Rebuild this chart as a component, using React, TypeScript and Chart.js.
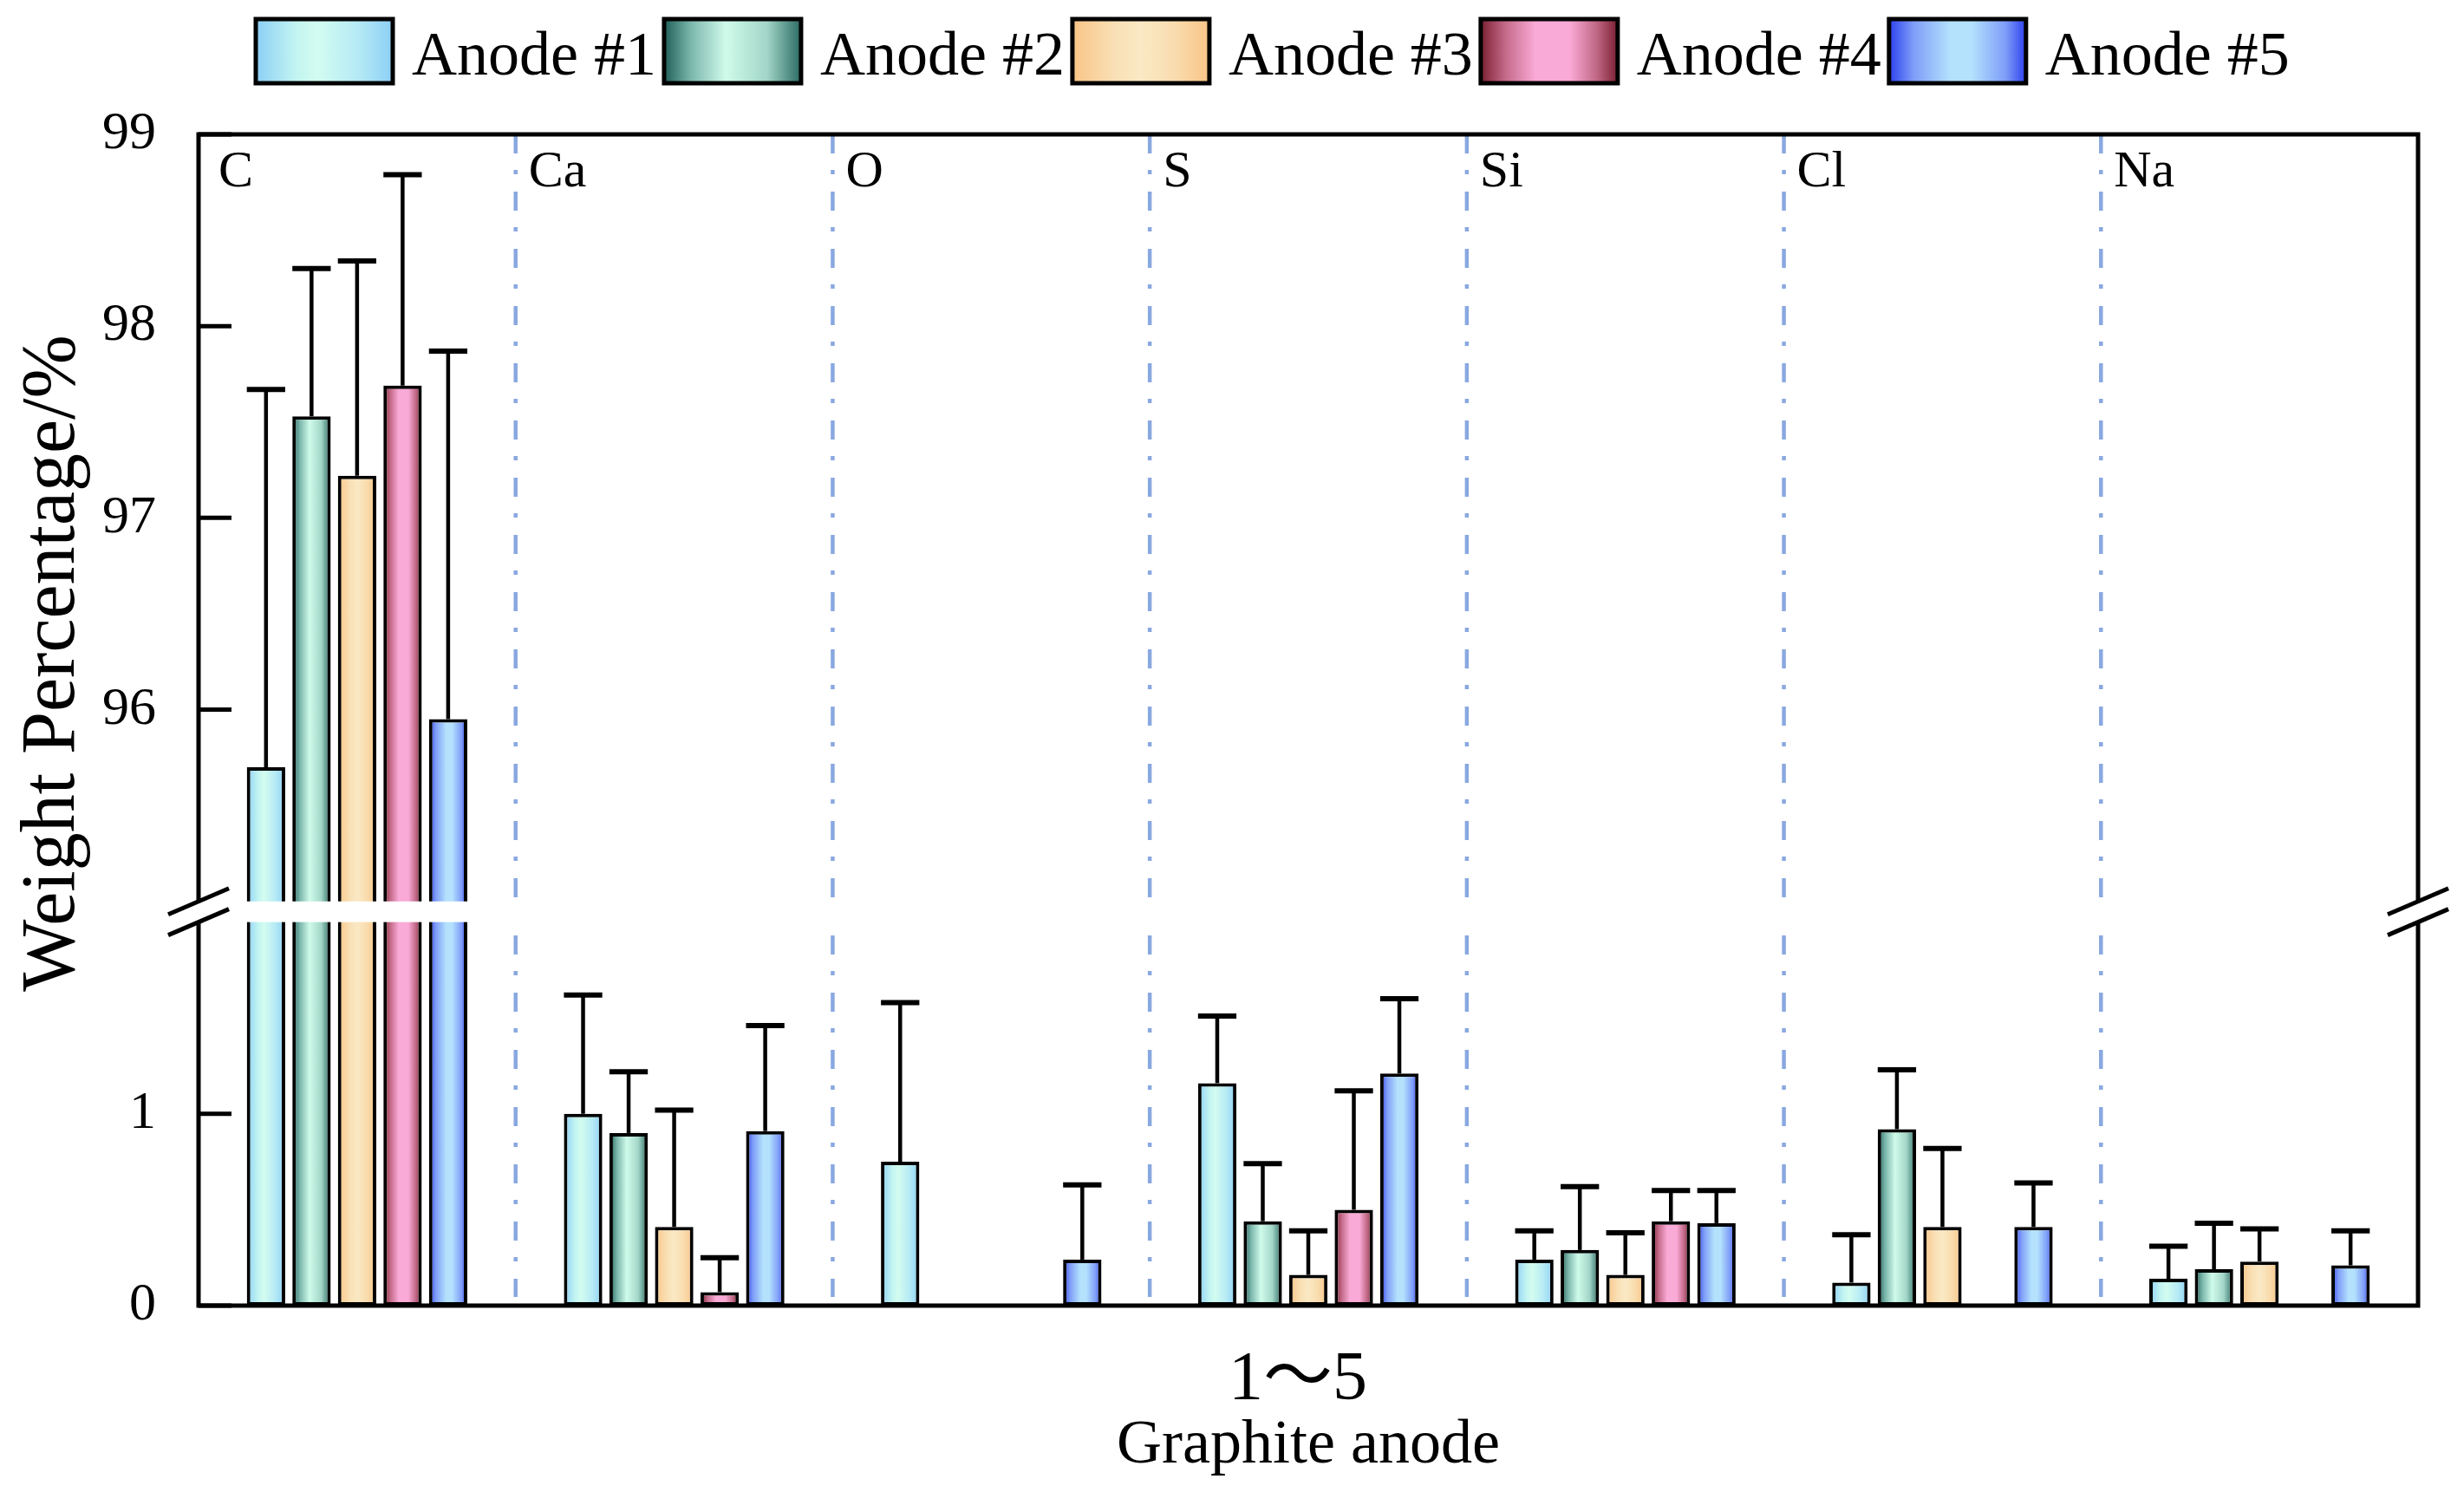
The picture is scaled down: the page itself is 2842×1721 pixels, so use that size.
import React, { useEffect, useRef } from 'react';
import { Chart, BarController, BarElement, CategoryScale, LinearScale } from 'chart.js';

Chart.register(BarController, BarElement, CategoryScale, LinearScale);

const categories = ['C', 'Ca', 'O', 'S', 'Si', 'Cl', 'Na'];
const seriesLabels = ['Anode #1', 'Anode #2', 'Anode #3', 'Anode #4', 'Anode #5'];

const anode1 = [95.7, 1.0, 0.75, 1.16, 0.24, 0.12, 0.14];
const anode2 = [97.53, 0.9, null, 0.44, 0.29, 0.92, 0.19];
const anode3 = [97.22, 0.41, null, 0.16, 0.16, 0.41, 0.23];
const anode4 = [97.69, 0.07, null, 0.5, 0.44, null, null];
const anode5 = [95.95, 0.91, 0.24, 1.21, 0.43, 0.41, 0.21];

const anode1Err = [1.97, 0.62, 0.83, 0.35, 0.15, 0.25, 0.17];
const anode2Err = [0.77, 0.32, null, 0.3, 0.33, 0.31, 0.24];
const anode3Err = [1.12, 0.61, null, 0.23, 0.22, 0.41, 0.17];
const anode4Err = [1.1, 0.18, null, 0.62, 0.16, null, null];
const anode5Err = [1.92, 0.55, 0.39, 0.39, 0.17, 0.23, 0.18];

const yTickValues = [0, 1, 96, 97, 98, 99];

const values = [anode1, anode2, anode3, anode4, anode5];
const errors = [anode1Err, anode2Err, anode3Err, anode4Err, anode5Err];

// broken y axis: 0-2 below the break, 95-99 above it
const LOW_MAX = 2;
const HIGH_MIN = 95;
const HIGH_MAX = 99;
const GAP = 0.108;
const toAxis = (v: number) => (v <= LOW_MAX ? v : LOW_MAX + GAP + (v - HIGH_MIN));
const AXIS_MAX = toAxis(HIGH_MAX);

const CAT_PCT = 0.718;
const BAR_PCT = 0.843;
const SERIF = '"Liberation Serif", "Times New Roman", serif';

const flatColors = ['#b8ecf4', '#8cc6bb', '#fadbb0', '#e48fb5', '#7f9df8'];
const gradientStops: [number, string][][] = [
  [[0, '#8ccff6'], [0.3, '#c3f5f1'], [0.45, '#d3fcf0'], [0.75, '#b5eaf5'], [1, '#8ccff6']],
  [[0, '#1f5f58'], [0.2, '#7db8ad'], [0.45, '#cffbea'], [0.75, '#a3d6c8'], [1, '#2a6a63']],
  [[0, '#f9c486'], [0.3, '#f9dfb4'], [0.5, '#fae9c5'], [0.75, '#f9dcae'], [1, '#f9c486']],
  [[0, '#7a1f30'], [0.18, '#c46a89'], [0.4, '#f9aad6'], [0.65, '#f9aad6'], [0.85, '#bf6684'], [1, '#7a1f30']],
  [[0, '#2c40ee'], [0.18, '#7f9df8'], [0.45, '#b4e2fd'], [0.6, '#b4e2fd'], [0.85, '#7f9df8'], [1, '#2c40ee']],
];

function makeGradient(ctx: CanvasRenderingContext2D, x0: number, x1: number, stops: [number, string][]) {
  const g = ctx.createLinearGradient(x0, 0, x1, 0);
  stops.forEach(([o, c]) => g.addColorStop(o, c));
  return g;
}

const barFill = (si: number) => (c: any) => {
  const chart = c.chart;
  const xs = chart.scales?.x;
  if (c.type !== 'data' || !xs || !xs.width) return flatColors[si];
  const catW = xs.width / categories.length;
  const slot = (catW * CAT_PCT) / seriesLabels.length;
  const w = slot * BAR_PCT;
  const cx = xs.getPixelForValue(c.dataIndex) + (si - (seriesLabels.length - 1) / 2) * slot;
  if (!isFinite(cx)) return flatColors[si];
  return makeGradient(chart.ctx, cx - w / 2, cx + w / 2, gradientStops[si]);
};

const decorPlugin = {
  id: 'anodeDecor',
  beforeDatasetsDraw(chart: any) {
    const { ctx, chartArea: a } = chart;
    const catW = (a.right - a.left) / categories.length;
    ctx.save();
    ctx.strokeStyle = '#89a8e0';
    ctx.lineWidth = 4.5;
    ctx.setLineDash([22, 19, 5, 20]);
    for (let k = 1; k < categories.length; k++) {
      const x = a.left + k * catW;
      ctx.beginPath();
      ctx.moveTo(x, a.top);
      ctx.lineTo(x, a.bottom - 10);
      ctx.stroke();
    }
    ctx.restore();
  },
  afterDatasetsDraw(chart: any) {
    const { ctx, chartArea: a } = chart;
    const ys = chart.scales.y;
    ctx.save();

    // error bars (upper side only)
    ctx.strokeStyle = '#000';
    values.forEach((series, si) => {
      const meta = chart.getDatasetMeta(si);
      meta.data.forEach((bar: any, i: number) => {
        const v = series[i];
        const e = errors[si][i];
        if (v == null || e == null) return;
        const { x, y, width } = bar.getProps(['x', 'y', 'width'], true);
        const top = ys.getPixelForValue(toAxis(v + e));
        ctx.lineWidth = 4.5;
        ctx.beginPath();
        ctx.moveTo(x, y);
        ctx.lineTo(x, top);
        ctx.stroke();
        ctx.lineWidth = 6;
        ctx.beginPath();
        ctx.moveTo(x - width / 2, top);
        ctx.lineTo(x + width / 2, top);
        ctx.stroke();
      });
    });

    // frame
    ctx.lineWidth = 5;
    ctx.strokeRect(a.left, a.top, a.right - a.left, a.bottom - a.top);

    // inward tick marks on the left axis
    yTickValues.forEach((v) => {
      const y = ys.getPixelForValue(toAxis(v));
      ctx.beginPath();
      ctx.moveTo(a.left, y);
      ctx.lineTo(a.left + 38, y);
      ctx.stroke();
    });

    // axis break
    const yHi = ys.getPixelForValue(toAxis(HIGH_MIN));
    const yLo = ys.getPixelForValue(LOW_MAX);
    ctx.fillStyle = '#fff';
    ctx.fillRect(a.left - 4, yHi, a.right - a.left + 8, yLo - yHi);
    ctx.lineWidth = 5;
    [a.left, a.right].forEach((ax) => {
      [yHi, yLo].forEach((yy) => {
        ctx.beginPath();
        ctx.moveTo(ax - 35, yy + 15);
        ctx.lineTo(ax + 35, yy - 15);
        ctx.stroke();
      });
    });

    // element labels in each group
    const catW = (a.right - a.left) / categories.length;
    ctx.fillStyle = '#000';
    ctx.font = `60px ${SERIF}`;
    ctx.textAlign = 'left';
    ctx.textBaseline = 'alphabetic';
    categories.forEach((c, k) => {
      ctx.fillText(c, a.left + k * catW + (k === 0 ? 23 : 15), a.top + 60);
    });
    ctx.restore();
  },
  afterDraw(chart: any) {
    const { ctx, chartArea: a } = chart;
    ctx.save();
    ctx.fillStyle = '#000';
    ctx.textBaseline = 'alphabetic';

    // legend
    ctx.font = `72px ${SERIF}`;
    let x = 295;
    seriesLabels.forEach((label, si) => {
      ctx.fillStyle = makeGradient(ctx, x, x + 158, gradientStops[si]);
      ctx.fillRect(x, 22, 158, 74);
      ctx.lineWidth = 5;
      ctx.strokeStyle = '#000';
      ctx.strokeRect(x, 22, 158, 74);
      ctx.fillStyle = '#000';
      ctx.textAlign = 'left';
      ctx.fillText(label, x + 158 + 22, 86);
      x += 158 + 22 + ctx.measureText(label).width + 9;
    });

    // y axis title
    ctx.save();
    ctx.translate(85, 765);
    ctx.rotate(-Math.PI / 2);
    ctx.textAlign = 'center';
    ctx.font = `88px ${SERIF}`;
    ctx.fillText('Weight Percentage/%', 0, 0);
    ctx.restore();

    // x axis texts
    const cx = (a.left + a.right) / 2;
    ctx.textAlign = 'center';
    ctx.font = `80px ${SERIF}, "Noto Sans CJK SC"`;
    ctx.fillText('1～5', cx - 12, 1614);
    ctx.font = `72px ${SERIF}`;
    ctx.fillText('Graphite anode', cx, 1687);
    ctx.restore();
  },
};

export default function App() {
  const canvasRef = useRef<HTMLCanvasElement>(null);
  const chartRef = useRef<Chart | null>(null);

  useEffect(() => {
    if (!canvasRef.current) return;
    if (chartRef.current) chartRef.current.destroy();

    chartRef.current = new Chart(canvasRef.current, {
      type: 'bar',
      data: {
        labels: categories,
        datasets: seriesLabels.map((label, si) => ({
          label,
          data: values[si].map((v) => (v == null ? null : toAxis(v))),
          backgroundColor: barFill(si),
          borderColor: '#000',
          borderWidth: 4,
          borderSkipped: false,
          categoryPercentage: CAT_PCT,
          barPercentage: BAR_PCT,
        })),
      },
      options: {
        responsive: true,
        maintainAspectRatio: false,
        animation: false,
        layout: { padding: { top: 155, right: 53, bottom: 0, left: 0 } },
        plugins: { legend: { display: false }, tooltip: { enabled: false } },
        scales: {
          x: {
            offset: true,
            grid: { display: false, drawTicks: false },
            border: { display: false },
            ticks: { display: false },
            afterFit: (s: any) => { s.height = 215; },
          },
          y: {
            min: 0,
            max: AXIS_MAX,
            grid: { display: false, drawTicks: false },
            border: { display: false },
            afterBuildTicks: (s: any) => { s.ticks = yTickValues.map((v) => ({ value: toAxis(v) })); },
            ticks: {
              padding: 49,
              color: '#000',
              font: { size: 62, family: SERIF },
              callback: (_v: any, i: number) => String(yTickValues[i]),
            },
            afterFit: (s: any) => { s.width = 229; },
          },
        },
      },
      plugins: [decorPlugin],
    } as any);

    return () => { if (chartRef.current) chartRef.current.destroy(); chartRef.current = null; };
  }, []);

  return (
    <div style={{ position: 'absolute', left: 0, top: 0, width: 2842, height: 1721, background: '#fff' }}>
      <canvas ref={canvasRef} />
    </div>
  );
}
